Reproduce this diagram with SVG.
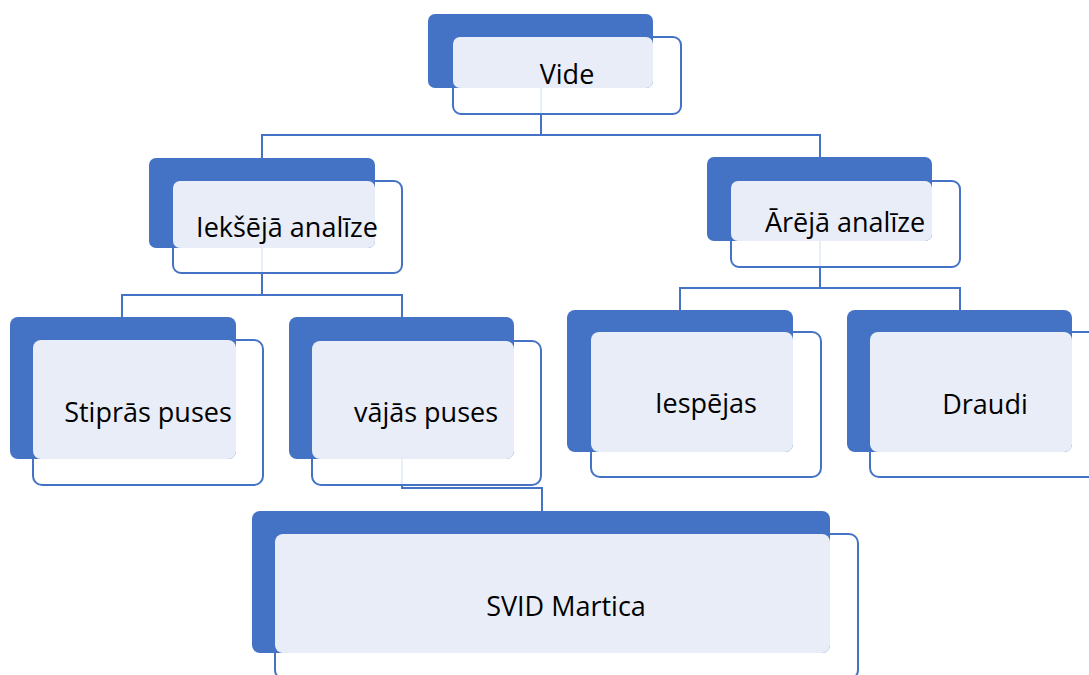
<svg xmlns="http://www.w3.org/2000/svg" width="1089" height="675" viewBox="0 0 1089 675">
<style>
.dark{fill:#4472C4;}
.out{fill:#FFFFFF;fill-opacity:0.88;stroke:#4472C4;stroke-width:2;}
.lite{fill:#E9EDF7;}
.lbl{font-family:"Open Sans","Noto Sans","DejaVu Sans",sans-serif;font-size:27px;fill:#000000;text-anchor:middle;}
.con{fill:none;stroke:#4472C4;stroke-width:2;}
</style>
<rect width="1089" height="675" fill="#FFFFFF"/>
<g id="connectors">
<path class="con" d="M541 88 V135 M262 158 V135 H820 V157"/>
<path class="con" d="M262 248 V295 M122 317 V295 H402 V317"/>
<path class="con" d="M820 241 V288 M680 310 V288 H960 V310"/>
<path class="con" d="M402 459 V488 H542 V511"/>
</g>
<g id="vide">
<rect class="out" x="453" y="37" width="228" height="77" rx="8"/>
<rect class="dark" x="428" y="14" width="225" height="74" rx="7"/>
<rect class="lite" x="453" y="37" width="200" height="51" rx="7"/>
<text class="lbl" x="567" y="84">Vide</text>
</g>
<g id="ieksejaanalize">
<rect class="out" x="173" y="181" width="229" height="92" rx="8"/>
<rect class="dark" x="149" y="158" width="226" height="90" rx="7"/>
<rect class="lite" x="173" y="181" width="202" height="67" rx="7"/>
<text class="lbl" x="287" y="237">Iekšējā analīze</text>
</g>
<g id="arejaanalize">
<rect class="out" x="731" y="181" width="229" height="86" rx="8"/>
<rect class="dark" x="707" y="157" width="225" height="84" rx="7"/>
<rect class="lite" x="731" y="181" width="201" height="60" rx="7"/>
<text class="lbl" x="845" y="232">Ārējā analīze</text>
</g>
<g id="stipraspuses">
<rect class="out" x="33" y="340" width="230" height="145" rx="9"/>
<rect class="dark" x="10" y="317" width="226" height="142" rx="8"/>
<rect class="lite" x="33" y="340" width="203" height="119" rx="8"/>
<text class="lbl" x="148" y="422">Stiprās puses</text>
</g>
<g id="vajaspuses">
<rect class="out" x="312" y="341" width="229" height="144" rx="9"/>
<rect class="dark" x="289" y="317" width="225" height="142" rx="8"/>
<rect class="lite" x="312" y="341" width="202" height="118" rx="8"/>
<text class="lbl" x="426" y="422">vājās puses</text>
</g>
<g id="iespejas">
<rect class="out" x="591" y="332" width="230" height="145" rx="9"/>
<rect class="dark" x="567" y="310" width="226" height="142" rx="8"/>
<rect class="lite" x="591" y="332" width="202" height="120" rx="8"/>
<text class="lbl" x="706" y="413">Iespējas</text>
</g>
<g id="draudi">
<rect class="out" x="870" y="332" width="230" height="145" rx="9"/>
<rect class="dark" x="847" y="310" width="225" height="142" rx="8"/>
<rect class="lite" x="870" y="332" width="202" height="120" rx="8"/>
<text class="lbl" x="985" y="414">Draudi</text>
</g>
<g id="svidmartica">
<rect class="out" x="275" y="534" width="583" height="145" rx="9"/>
<rect class="dark" x="252" y="511" width="578" height="142" rx="8"/>
<rect class="lite" x="275" y="534" width="555" height="119" rx="8"/>
<text class="lbl" x="566" y="616">SVID Martica</text>
</g>
</svg>
